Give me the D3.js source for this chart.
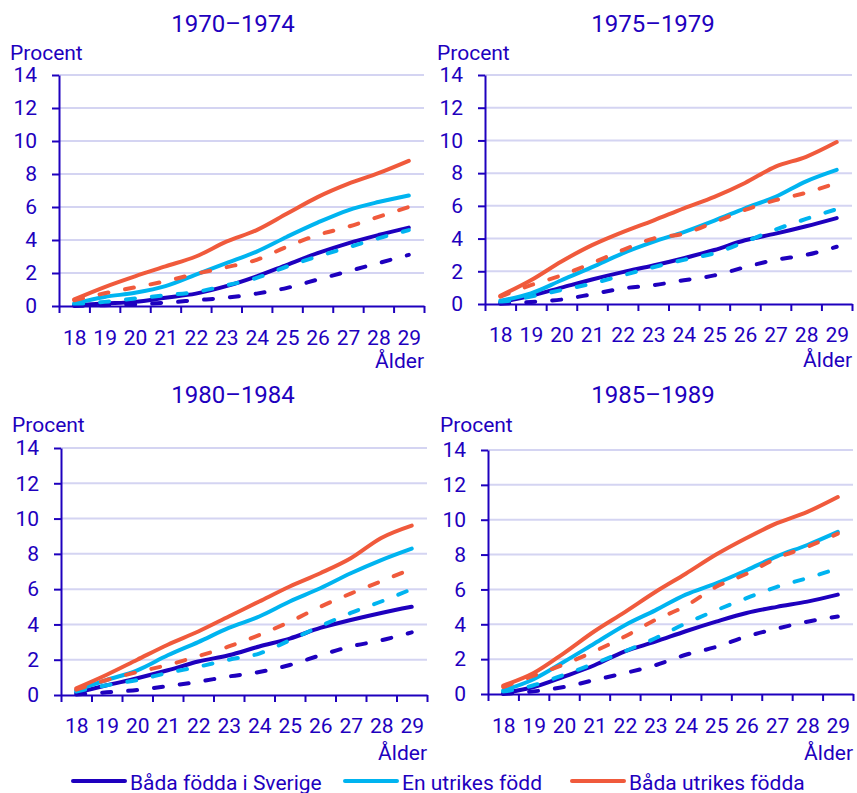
<!DOCTYPE html>
<html>
<head>
<meta charset="utf-8">
<script src="https://cdn.jsdelivr.net/npm/d3@7"></script>
<style>
  body { margin: 0; background: #fff; }
  svg { display: block; font-family: Roboto, "Noto Sans", sans-serif; }
</style>
</head>
<body>
<svg id="chart" width="857" height="793"></svg>
<script>
// ages on the x axis
const ages = [18, 19, 20, 21, 22, 23, 24, 25, 26, 27, 28, 29]
const yTicks = [0, 2, 4, 6, 8, 10, 12, 14]
const cohorts = ['1970\u20131974', '1975\u20131979', '1980\u20131984', '1985\u20131989']
const groups = ['Båda födda i Sverige', 'En utrikes född', 'Båda utrikes födda']

// values in percent, one array per cohort, group and line style
const sweSolid70 = [0.05, 0.15, 0.25, 0.5, 0.75, 1.2, 1.8, 2.5, 3.2, 3.8, 4.3, 4.75]
const sweDashed70 = [0.0, 0.05, 0.1, 0.2, 0.35, 0.5, 0.75, 1.1, 1.6, 2.1, 2.6, 3.1]
const oneSolid70 = [0.15, 0.55, 0.8, 1.2, 1.9, 2.6, 3.3, 4.2, 5.05, 5.8, 6.3, 6.7]
const oneDashed70 = [0.1, 0.25, 0.45, 0.65, 0.85, 1.25, 1.7, 2.4, 3.0, 3.55, 4.1, 4.6]
const bothSolid70 = [0.4, 1.15, 1.8, 2.4, 3.0, 3.9, 4.6, 5.6, 6.6, 7.4, 8.05, 8.8]
const bothDashed70 = [0.35, 0.77, 1.13, 1.5, 1.95, 2.35, 2.8, 3.6, 4.3, 4.8, 5.4, 6.0]

const sweSolid75 = [0.1, 0.5, 1.0, 1.5, 1.95, 2.35, 2.8, 3.3, 3.9, 4.3, 4.75, 5.25]
const sweDashed75 = [0.02, 0.12, 0.27, 0.6, 0.95, 1.15, 1.45, 1.75, 2.25, 2.7, 3.0, 3.5]
const oneSolid75 = [0.2, 0.65, 1.45, 2.25, 3.1, 3.8, 4.4, 5.1, 5.85, 6.55, 7.5, 8.2]
const oneDashed75 = [0.1, 0.45, 0.85, 1.25, 1.75, 2.25, 2.7, 3.1, 3.8, 4.55, 5.2, 5.8]
const bothSolid75 = [0.5, 1.45, 2.6, 3.6, 4.4, 5.1, 5.85, 6.55, 7.4, 8.4, 9.0, 9.9]
const bothDashed75 = [0.45, 1.15, 1.75, 2.5, 3.3, 4.0, 4.3, 5.0, 5.75, 6.35, 6.8, 7.4]

const sweSolid80 = [0.12, 0.55, 0.95, 1.4, 1.9, 2.25, 2.75, 3.2, 3.8, 4.25, 4.65, 5.0]
const sweDashed80 = [0.03, 0.15, 0.28, 0.5, 0.75, 1.05, 1.3, 1.7, 2.25, 2.75, 3.1, 3.55]
const oneSolid80 = [0.28, 0.85, 1.4, 2.25, 3.0, 3.8, 4.45, 5.3, 6.05, 6.9, 7.65, 8.3]
const oneDashed80 = [0.2, 0.55, 0.85, 1.25, 1.6, 2.0, 2.35, 3.1, 3.9, 4.65, 5.3, 6.0]
const bothSolid80 = [0.38, 1.15, 2.0, 2.85, 3.6, 4.45, 5.3, 6.15, 6.9, 7.75, 8.9, 9.6]
const bothDashed80 = [0.3, 0.85, 1.3, 1.7, 2.2, 2.75, 3.4, 4.15, 5.0, 5.75, 6.45, 7.15]

const sweSolid85 = [0.05, 0.4, 1.0, 1.65, 2.45, 3.0, 3.6, 4.15, 4.65, 5.0, 5.3, 5.7]
const sweDashed85 = [0.0, 0.15, 0.4, 0.8, 1.2, 1.65, 2.25, 2.7, 3.3, 3.75, 4.15, 4.45]
const oneSolid85 = [0.2, 0.85, 1.85, 2.9, 3.95, 4.8, 5.7, 6.35, 7.1, 7.9, 8.55, 9.3]
const oneDashed85 = [0.13, 0.5, 1.1, 1.75, 2.45, 3.2, 4.05, 4.8, 5.5, 6.15, 6.65, 7.2]
const bothSolid85 = [0.48, 1.2, 2.35, 3.6, 4.7, 5.85, 6.9, 8.0, 8.95, 9.8, 10.45, 11.3]
const bothDashed85 = [0.4, 1.05, 1.7, 2.45, 3.3, 4.25, 5.05, 6.15, 6.9, 7.8, 8.45, 9.2]

const colors = ['#1e00be', '#00b4f0', '#f05a3c']
const ink = '#1e00be'

const panels = [
    { title: cohorts[0], x0: 59, x1: 424, top: 75, zero: 306, tx: 233, ty: 32, px: 10, py: 60, lab: 345, alder: 368,
      lines: [ sweSolid70, oneSolid70, bothSolid70, sweDashed70, oneDashed70, bothDashed70 ] },
    { title: cohorts[1], x0: 485, x1: 852, top: 75, zero: 304, tx: 653, ty: 32, px: 437, py: 60, lab: 342, alder: 367,
      lines: [ sweSolid75, oneSolid75, bothSolid75, sweDashed75, oneDashed75, bothDashed75 ] },
    { title: cohorts[2], x0: 61, x1: 427, top: 448, zero: 695, tx: 233, ty: 403, px: 12, py: 432, lab: 733, alder: 760,
      lines: [ sweSolid80, oneSolid80, bothSolid80, sweDashed80, oneDashed80, bothDashed80 ] },
    { title: cohorts[3], x0: 488, x1: 853, top: 450, zero: 694, tx: 653, ty: 403, px: 440, py: 432, lab: 733, alder: 760,
      lines: [ sweSolid85, oneSolid85, bothSolid85, sweDashed85, oneDashed85, bothDashed85 ] }
]

const svg = d3.select('#chart')

panels.forEach( p => {
    const g = svg.append('g')

    const x = d3.scaleLinear().domain([17.5, 29.5]).range([p.x0, p.x1])
    const y = d3.scaleLinear().domain([0, 14]).range([p.zero, p.top])

    g.append('text')
        .attr('x', p.tx).attr('y', p.ty)
        .attr('text-anchor', 'middle')
        .attr('font-size', 24).attr('fill', ink)
        .text(p.title)

    g.append('text')
        .attr('x', p.px).attr('y', p.py)
        .attr('font-size', 21).attr('fill', ink)
        .text('Procent')

    g.selectAll('.grid')
        .data(yTicks.filter( d => d > 0 ))
        .join('line')
        .attr('x1', p.x0).attr('x2', p.x1)
        .attr('y1', d => y(d)).attr('y2', d => y(d))
        .attr('stroke', '#d4d4f2').attr('stroke-width', 2)

    const line = d3.line()
        .x( (d, i) => x(ages[i]) )
        .y( d => y(d) )
        .curve(d3.curveMonotoneX)

    p.lines.forEach( (vals, i) => {
        g.append('path')
            .attr('d', line(vals))
            .attr('fill', 'none')
            .attr('stroke', colors[i % 3])
            .attr('stroke-width', 4)
            .attr('stroke-linecap', 'round')
            .attr('stroke-dasharray', i >= 3 ? '9,17' : null)
    } )

    const yAxis = g.append('g')
        .attr('transform', `translate(${p.x0},0)`)
        .call( d3.axisLeft(y).tickValues(yTicks).tickSize(7).tickPadding(15).tickSizeOuter(0) )

    const xTicks = g.append('g')
        .attr('transform', `translate(0,${p.zero})`)
        .call( d3.axisBottom(x).tickValues(d3.range(17.5, 30, 1)).tickFormat('').tickSize(7).tickSizeOuter(0) )

    const xLabels = g.append('g')
        .attr('transform', `translate(0,${p.lab})`)
        .call( d3.axisBottom(x).tickValues(ages).tickSize(0) )

    xLabels.select('.domain').remove()
    xLabels.selectAll('text').attr('y', 0).attr('dy', 0)

    ;[yAxis, xTicks, xLabels].forEach( a => {
        a.selectAll('.domain, line').attr('stroke', ink).attr('stroke-width', 2)
        a.selectAll('text').attr('fill', ink).attr('font-size', 21).attr('font-family', 'Roboto')
    } )

    g.append('text')
        .attr('x', p.x1).attr('y', p.alder)
        .attr('text-anchor', 'end')
        .attr('font-size', 21).attr('fill', ink)
        .text('Ålder')
} )

// legend
const legendX = [73, 345, 572]
const legend = svg.append('g')
groups.forEach( (name, i) => {
    legend.append('line')
        .attr('x1', legendX[i]).attr('x2', legendX[i] + 52)
        .attr('y1', 781).attr('y2', 781)
        .attr('stroke', colors[i]).attr('stroke-width', 4)
        .attr('stroke-linecap', 'round')
    legend.append('text')
        .attr('x', legendX[i] + 57).attr('y', 790)
        .attr('font-size', 21).attr('fill', ink)
        .text(name)
} )
</script>
</body>
</html>
